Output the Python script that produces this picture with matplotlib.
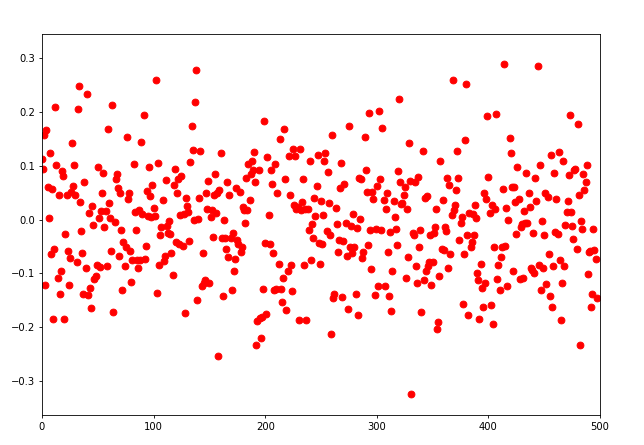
import numpy as np
import matplotlib
matplotlib.use("Agg")
import matplotlib.pyplot as plt

# values, left to right (x is just the sample index)
y_0_85 = [0.112, 0.094, 0.157, -0.121, 0.167, 0.061, 0.002, 0.123, -0.065, 0.057,
          -0.186, -0.054, 0.209, 0.101, -0.108, 0.045, -0.139, -0.095, 0.090, 0.081,
          -0.186, -0.027, 0.046, -0.059, -0.121, -0.071, 0.052, 0.142, 0.063, 0.101,
          0.045, -0.080, 0.206, 0.249, 0.032, -0.021, -0.062, -0.138, 0.069, -0.091,
          0.233, -0.141, 0.013, -0.127, -0.165, 0.026, -0.011, -0.110, -0.106, -0.084,
          0.097, 0.002, -0.088, 0.016, 0.050, 0.086, -0.013, 0.016, -0.087, 0.169,
          0.030, 0.002, -0.059, 0.213, -0.172, -0.004, 0.076, 0.085, 0.059, -0.067,
          0.049, -0.019, -0.132, -0.042, -0.086, -0.051, 0.153, 0.039, 0.049, -0.059,
          -0.116, -0.076, 0.103, 0.014, -0.020]

y_85_165 = [-0.076, -0.091, 0.017, -0.075, 0.144, 0.011, 0.194, -0.074, -0.049, 0.053,
            0.006, 0.097, 0.044, 0.004, 0.065, 0.022, 0.006, 0.259, -0.136, 0.106,
            -0.084, -0.029, -0.014, 0.037, -0.078, -0.068, 0.073, -0.012, -0.025, -0.003,
            -0.027, -0.062, -0.103, 0.065, 0.094, -0.041, 0.049, 0.075, -0.045, 0.008,
            0.081, -0.049, 0.011, -0.174, 0.041, 0.025, 0.014, -0.040, 0.108, 0.175,
            0.129, 0.000, 0.219, 0.278, -0.150, 0.001, 0.041, 0.127, -0.124, -0.063,
            -0.119, -0.113, 0.050, 0.019, 0.072, -0.118, 0.004, 0.017, -0.032, 0.045,
            0.084, 0.013, 0.049, -0.255, 0.055, 0.123, -0.034, -0.143]

y_165_245 = [0.000, -0.034, -0.054, 0.069, -0.070, 0.046, -0.034, -0.132, -0.026, -0.095,
             -0.073, 0.058, -0.038, -0.045, 0.052, -0.061, -0.051, 0.024, 0.017, -0.006,
             0.078, 0.017, 0.103, 0.037, 0.085, 0.109, 0.093, 0.126, 0.069, -0.234,
             -0.189, 0.092, -0.183, -0.220, -0.182, -0.130, 0.183, -0.043, -0.175, 0.117,
             0.009, -0.045, 0.092, 0.067, -0.062, -0.132, 0.103, -0.130, 0.050, -0.083,
             0.150, -0.130, -0.154, -0.108, 0.168, 0.076, -0.169, -0.096, 0.118, 0.045,
             -0.084, -0.134, 0.131, 0.027, 0.118, 0.019, 0.024, -0.187, 0.132, 0.017,
             0.032, 0.076, -0.084, 0.019, -0.187, 0.019, -0.020, 0.109, -0.076, -0.009,
             -0.035, 0.041, 0.006]

y_245_330 = [0.062, 0.120, -0.043, -0.082, 0.035, -0.045, 0.008, 0.109, 0.124, -0.022,
             0.088, 0.030, -0.029, -0.214, 0.157, -0.146, -0.138, 0.022, -0.009, -0.061,
             -0.039, 0.059, 0.106, -0.145, -0.040, 0.067, -0.006, -0.068, -0.166, 0.174,
             -0.051, -0.012, -0.062, 0.010, -0.051, -0.138, -0.015, -0.177, 0.078, 0.001,
             0.075, -0.072, -0.061, 0.153, 0.092, 0.052, -0.047, 0.198, -0.019, -0.093,
             0.051, 0.038, -0.141, -0.018, 0.063, -0.123, 0.203, 0.075, -0.019, 0.170,
             0.037, -0.124, 0.019, 0.050, -0.061, -0.142, -0.023, -0.171, -0.095, 0.034,
             0.004, -0.017, -0.048, 0.090, 0.224, 0.070, 0.028, 0.031, 0.045, 0.060,
             -0.108]

y_330_410 = [0.019, -0.070, 0.143, 0.072, -0.325, -0.026, -0.029, 0.070, -0.087, -0.118,
             0.079, -0.051, -0.019, -0.173, 0.127, -0.112, 0.040, -0.096, 0.044, -0.087,
             -0.080, -0.028, -0.121, -0.079, -0.026, -0.014, 0.019, -0.203, -0.191, -0.105,
             0.109, -0.054, 0.036, -0.057, -0.014, -0.022, 0.077, -0.091, 0.064, -0.065,
             0.008, 0.260, 0.017, 0.027, 0.055, 0.127, 0.078, -0.039, -0.006, 0.004,
             -0.158, -0.065, 0.148, 0.252, -0.028, -0.177, 0.013, -0.051, -0.042, 0.011,
             -0.029, 0.027, 0.002, -0.100, -0.112, -0.185, -0.082, -0.128, -0.162, 0.050,
             -0.119, 0.039, 0.193, 0.079, 0.013, -0.160, 0.027, -0.194, -0.052, 0.019,
             0.196, -0.110]

y_410_500 = [-0.085, -0.131, -0.070, -0.051, 0.056, 0.289, -0.050, 0.022, -0.124, 0.000,
             0.151, 0.124, 0.060, -0.095, 0.061, 0.032, -0.027, 0.098, 0.039, -0.110,
             -0.014, -0.009, -0.108, 0.016, -0.006, 0.087, -0.006, 0.050, 0.024, -0.090,
             -0.094, -0.026, -0.099, 0.078, 0.035, 0.286, -0.084, 0.102, -0.132, -0.003,
             -0.090, -0.029, 0.050, -0.120, 0.042, -0.064, -0.142, 0.121, -0.162, -0.086,
             0.086, -0.023, 0.039, -0.027, 0.125, -0.076, -0.187, -0.119, 0.109, -0.087,
             -0.011, 0.014, 0.035, 0.083, 0.195, 0.014, -0.012, -0.036, 0.093, 0.094,
             -0.054, 0.177, 0.045, -0.233, -0.002, -0.017, 0.084, 0.055, 0.069, 0.101,
             -0.101, -0.061, -0.059, -0.163, -0.138, -0.017, -0.057, -0.073, -0.147]

y = np.array(y_0_85 + y_85_165 + y_165_245 + y_245_330 + y_330_410 + y_410_500)
x = np.arange(len(y))

fig = plt.figure(figsize=(6.44, 4.45), dpi=100)
ax = fig.add_axes([0.0652, 0.0674, 0.8665, 0.8556])

ax.plot(x, y, 'o', color='red', markersize=4.9, markeredgewidth=0.7)

ax.set_xlim(0, 500)
ax.set_ylim(-0.364, 0.345)
ax.set_xticks([0, 100, 200, 300, 400, 500])
ax.set_yticks([-0.3, -0.2, -0.1, 0.0, 0.1, 0.2, 0.3])
ax.tick_params(labelsize=7.2, length=2.5, width=0.6, pad=2.5)
for s in ax.spines.values():
    s.set_linewidth(0.6)

fig.savefig("out.png", dpi=100)
